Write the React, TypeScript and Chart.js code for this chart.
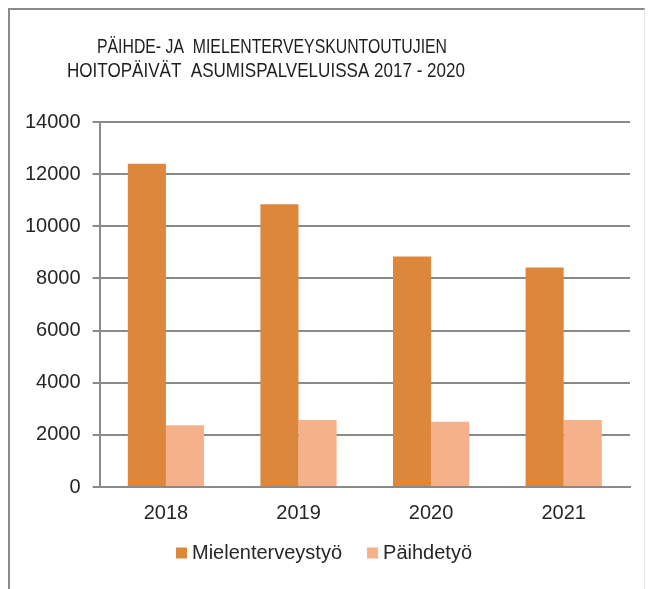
import React, { useEffect, useRef } from "react";
import { Chart, registerables } from "chart.js";

Chart.register(...registerables);

const titleLines = ["PÄIHDE- JA  MIELENTERVEYSKUNTOUTUJIEN", "HOITOPÄIVÄT  ASUMISPALVELUISSA 2017 - 2020"];
const years = ["2018", "2019", "2020", "2021"];
const seriesNames = ["Mielenterveystyö", "Päihdetyö"];
const mielenterveystyo = [12400, 10850, 8840, 8420];
const paihdetyo = [2370, 2570, 2500, 2570];
const seriesColors = ["#DD873D", "#F5B189"];
const yMin = 0;
const yMax = 14000;
const yStep = 2000;

const FONT = "'Liberation Sans', Arial, sans-serif";
const TEXT = "#262626";

// per-line layout of the title (style only)
const titleCenters = [272, 266];
const titleWidths = [350, 398];
const titleBaselines = [53, 77];

const titlePlugin = {
  id: "customTitle",
  afterDraw(chart: any) {
    const ctx = chart.ctx;
    ctx.save();
    ctx.fillStyle = "#1e1e1e";
    ctx.font = "21px 'Liberation Sans', Arial, sans-serif";
    ctx.textAlign = "center";
    ctx.textBaseline = "alphabetic";
    titleLines.forEach((line, i) => {
      const w = ctx.measureText(line).width;
      ctx.save();
      ctx.translate(titleCenters[i], titleBaselines[i]);
      ctx.scale(titleWidths[i] / w, 1);
      ctx.fillText(line, 0, 0);
      ctx.restore();
    });
    ctx.restore();
  },
};

const legendPlugin = {
  id: "customLegend",
  afterDraw(chart: any) {
    const ctx = chart.ctx;
    ctx.save();
    ctx.font = "20px 'Liberation Sans', Arial, sans-serif";
    ctx.textBaseline = "middle";
    ctx.textAlign = "left";
    const box = 11;
    const gapText = 5;
    const gapItem = 25;
    const ds = chart.data.datasets;
    const widths = ds.map((d: any) => box + gapText + ctx.measureText(d.label).width);
    const total = widths.reduce((a: number, b: number) => a + b, 0) + gapItem * (ds.length - 1);
    let x = 324 - total / 2;
    const cy = 553;
    ds.forEach((d: any, i: number) => {
      ctx.fillStyle = d.backgroundColor;
      ctx.fillRect(x, cy - box / 2, box, box);
      ctx.fillStyle = TEXT;
      ctx.fillText(d.label, x + box + gapText, cy);
      x += widths[i] + gapItem;
    });
    ctx.restore();
  },
};

export default function App() {
  const ref = useRef<HTMLCanvasElement | null>(null);
  useEffect(() => {
    if (!ref.current) return;
    const chart = new Chart(ref.current, {
      type: "bar",
      data: {
        labels: years,
        datasets: [
          {
            label: seriesNames[0],
            data: mielenterveystyo,
            backgroundColor: seriesColors[0],
            borderWidth: 0,
            categoryPercentage: 0.575,
            barPercentage: 1,
          },
          {
            label: seriesNames[1],
            data: paihdetyo,
            backgroundColor: seriesColors[1],
            borderWidth: 0,
            categoryPercentage: 0.575,
            barPercentage: 1,
          },
        ],
      },
      options: {
        responsive: false,
        animation: false,
        layout: { padding: { top: 122, left: 13, right: 19, bottom: 50 } },
        plugins: {
          title: { display: false },
          tooltip: { enabled: false },
          legend: { display: false },
        },
        scales: {
          x: {
            grid: { display: false, drawTicks: false },
            border: { display: true, color: "#8a8a8a", width: 2 },
            ticks: { color: TEXT, padding: 14, font: { family: FONT, size: 20 } },
          },
          y: {
            min: yMin,
            max: yMax,
            ticks: {
              stepSize: yStep,
              color: TEXT,
              padding: 12,
              font: { family: FONT, size: 20 },
              callback: (v: any) => String(v),
            },
            grid: { color: "#8a8a8a", lineWidth: 2, tickLength: 7 },
            border: { display: true, color: "#8a8a8a", width: 2 },
          },
        },
      },
      plugins: [titlePlugin, legendPlugin],
    });
    return () => chart.destroy();
  }, []);

  return (
    <div style={{ position: "fixed", left: 0, top: 0, width: 649, height: 589, background: "#fff", overflow: "hidden" }}>
      <div
        style={{
          position: "absolute",
          left: 8,
          top: 8,
          width: 634,
          height: 620,
          borderTop: "2px solid #8a8a8a",
          borderLeft: "2px solid #8a8a8a",
          borderRight: "1px solid #e8e8e8",
        }}
      />
      <canvas ref={ref} width={649} height={589} style={{ position: "absolute", left: 0, top: 0, display: "block" }} />
    </div>
  );
}
